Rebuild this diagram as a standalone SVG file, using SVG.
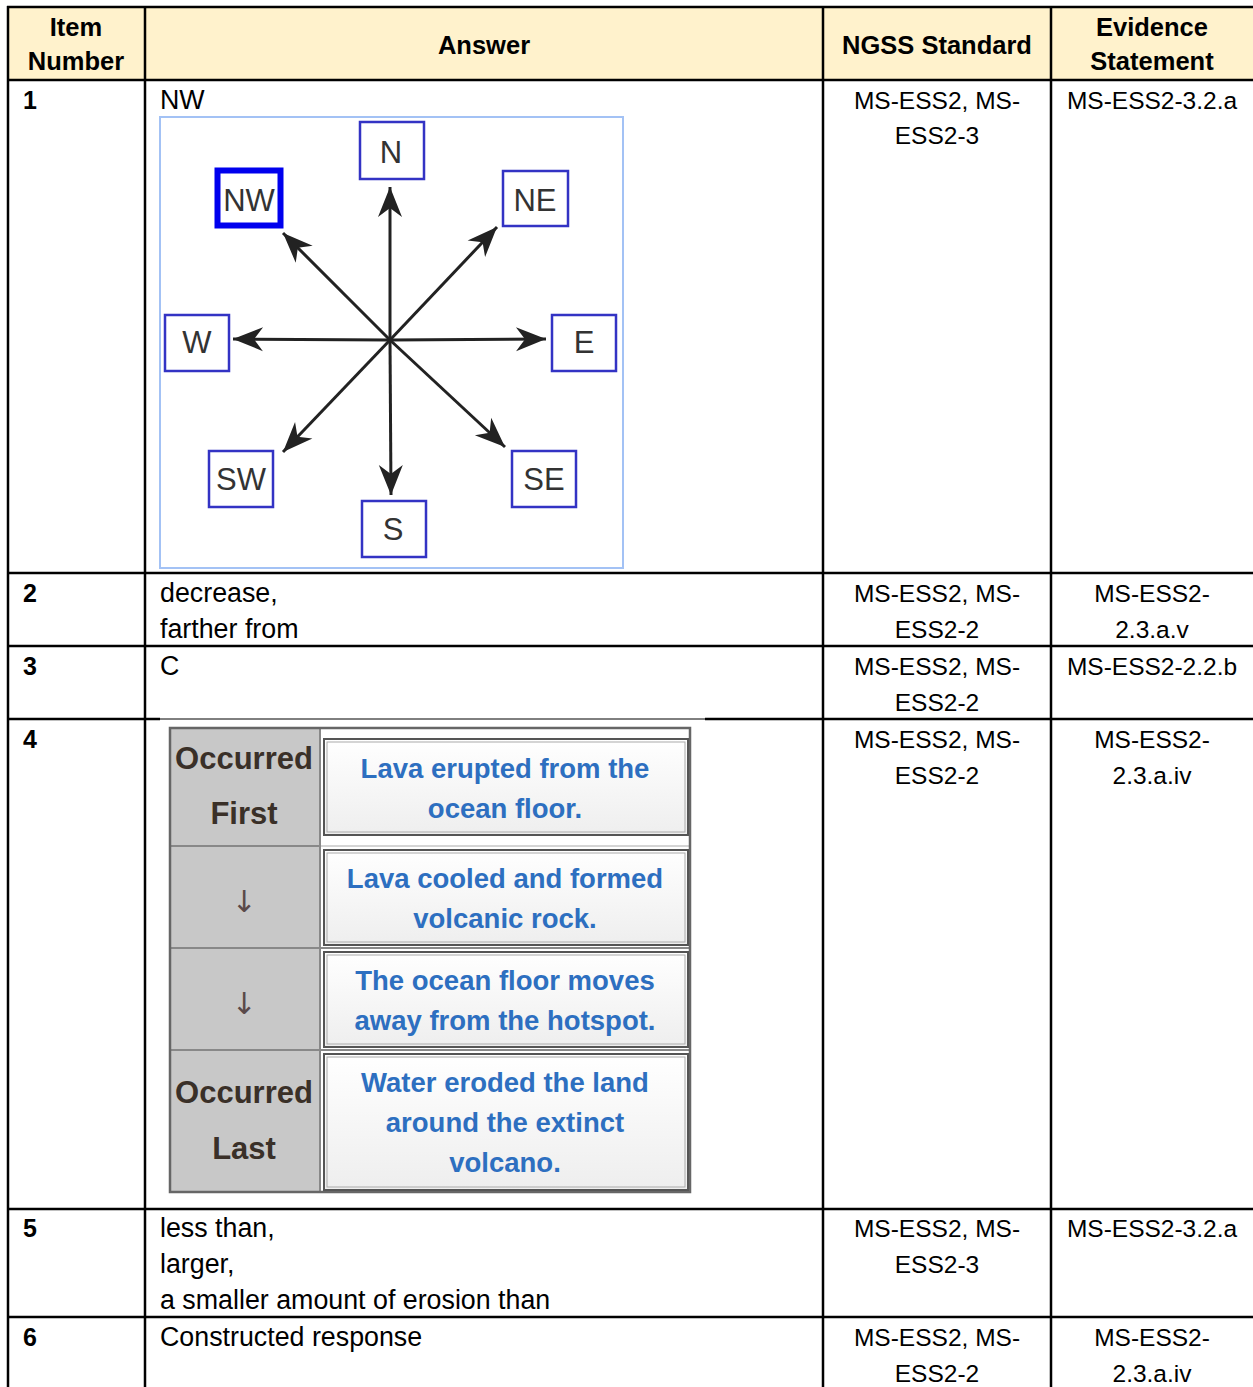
<svg xmlns="http://www.w3.org/2000/svg" width="1253" height="1387" viewBox="0 0 1253 1387">
<style>
.t{font-family:"Liberation Sans",Arial,sans-serif;font-size:26.8px;fill:#000}
.s{font-family:"Liberation Sans",Arial,sans-serif;font-size:24.5px;fill:#000;text-anchor:middle}
.h{font-family:"Liberation Sans",Arial,sans-serif;font-size:25.5px;font-weight:bold;fill:#000;text-anchor:middle}
.n{font-family:"Liberation Sans",Arial,sans-serif;font-size:25px;font-weight:bold;fill:#000}
.g{stroke:#000;stroke-width:2.5;fill:none}
.cb{fill:#fff;stroke:#3333c4;stroke-width:2.5}
.ct{font-family:"Liberation Sans",Arial,sans-serif;font-size:31px;fill:#333;text-anchor:middle}
.ar{stroke:#222;stroke-width:3;fill:none}
.lc{font-family:"Liberation Sans",Arial,sans-serif;font-size:31px;font-weight:bold;fill:#3a3028;text-anchor:middle}
.rc{font-family:"Liberation Sans",Arial,sans-serif;font-size:27.5px;font-weight:bold;fill:#2d6fc0;text-anchor:middle}
.bx{fill:url(#cg);stroke:#555;stroke-width:2}
.bi{fill:none;stroke:#aaa;stroke-width:1}
.da{font-family:"DejaVu Sans",sans-serif;font-size:30px;fill:#5a4a4a;text-anchor:middle}
</style>
<defs>
<marker id="ah" markerUnits="userSpaceOnUse" markerWidth="34" markerHeight="28" viewBox="-32 -14 34 28" refX="0" refY="0" orient="auto">
<path d="M0,0 L-30,-12 L-21,0 L-30,12 Z" fill="#222"/>
</marker>
<linearGradient id="cg" x1="0" y1="0" x2="0" y2="1">
<stop offset="0" stop-color="#ffffff"/>
<stop offset="1" stop-color="#eeeeee"/>
</linearGradient>
</defs>

<g id="table">
<rect x="8" y="7" width="1245" height="73" fill="#fff2cc"/>
<line class="g" x1="7" y1="7" x2="1253" y2="7"/>
<line class="g" x1="8" y1="6" x2="8" y2="1387"/>
<line class="g" x1="145" y1="6" x2="145" y2="1387"/>
<line class="g" x1="823" y1="6" x2="823" y2="1387"/>
<line class="g" x1="1051" y1="6" x2="1051" y2="1387"/>
<line class="g" x1="7" y1="80" x2="1253" y2="80"/>
<line class="g" x1="7" y1="573" x2="1253" y2="573"/>
<line class="g" x1="7" y1="646" x2="1253" y2="646"/>
<line class="g" x1="7" y1="719" x2="160" y2="719"/>
<line x1="160" y1="719" x2="705" y2="719" stroke="#000" stroke-width="1"/>
<line class="g" x1="705" y1="719" x2="1253" y2="719"/>
<line class="g" x1="7" y1="1209" x2="1253" y2="1209"/>
<line class="g" x1="7" y1="1317" x2="1253" y2="1317"/>
</g>

<g id="header">
<text class="h" x="76" y="36">Item</text>
<text class="h" x="76" y="70">Number</text>
<text class="h" x="484" y="54">Answer</text>
<text class="h" x="937" y="54">NGSS Standard</text>
<text class="h" x="1152" y="36">Evidence</text>
<text class="h" x="1152" y="70">Statement</text>
</g>

<g id="row1">
<text class="n" x="23" y="109">1</text>
<text class="t" x="160" y="109">NW</text>
<text class="s" x="937" y="109">MS-ESS2, MS-</text>
<text class="s" x="937" y="144">ESS2-3</text>
<text class="s" x="1152" y="109">MS-ESS2-3.2.a</text>
</g>

<g id="compass">
<rect x="160" y="117" width="463" height="451" fill="#fff" stroke="#a3c2f5" stroke-width="2"/>
<g id="arrows">
<line class="ar" x1="390" y1="340" x2="390" y2="187" marker-end="url(#ah)"/>
<line class="ar" x1="390" y1="340" x2="497" y2="227" marker-end="url(#ah)"/>
<line class="ar" x1="390" y1="340" x2="546" y2="339" marker-end="url(#ah)"/>
<line class="ar" x1="390" y1="340" x2="505" y2="447" marker-end="url(#ah)"/>
<line class="ar" x1="390" y1="340" x2="391" y2="495" marker-end="url(#ah)"/>
<line class="ar" x1="390" y1="340" x2="283" y2="452" marker-end="url(#ah)"/>
<line class="ar" x1="390" y1="340" x2="233" y2="339" marker-end="url(#ah)"/>
<line class="ar" x1="390" y1="340" x2="283" y2="233" marker-end="url(#ah)"/>
</g>
<g id="c-N"><rect class="cb" x="360" y="122" width="64" height="57"/><text class="ct" x="391" y="163">N</text></g>
<g id="c-NE"><rect class="cb" x="503" y="171" width="65" height="55"/><text class="ct" x="535" y="211">NE</text></g>
<g id="c-E"><rect class="cb" x="552" y="315" width="64" height="56"/><text class="ct" x="584" y="353">E</text></g>
<g id="c-SE"><rect class="cb" x="512" y="451" width="64" height="56"/><text class="ct" x="544" y="490">SE</text></g>
<g id="c-S"><rect class="cb" x="362" y="501" width="64" height="56"/><text class="ct" x="393" y="540">S</text></g>
<g id="c-SW"><rect class="cb" x="209" y="451" width="64" height="56"/><text class="ct" x="241" y="490">SW</text></g>
<g id="c-W"><rect class="cb" x="165" y="315" width="64" height="56"/><text class="ct" x="197" y="353">W</text></g>
<g id="c-NW"><rect x="217.5" y="170.5" width="63" height="55" fill="#fff" stroke="#0000ee" stroke-width="6"/><text class="ct" x="249" y="211">NW</text></g>
</g>

<g id="row2">
<text class="n" x="23" y="602">2</text>
<text class="t" x="160" y="602">decrease,</text>
<text class="t" x="160" y="638">farther from</text>
<text class="s" x="937" y="602">MS-ESS2, MS-</text>
<text class="s" x="937" y="638">ESS2-2</text>
<text class="s" x="1152" y="602">MS-ESS2-</text>
<text class="s" x="1152" y="638">2.3.a.v</text>
</g>

<g id="row3">
<text class="n" x="23" y="675">3</text>
<text class="t" x="160" y="675">C</text>
<text class="s" x="937" y="675">MS-ESS2, MS-</text>
<text class="s" x="937" y="711">ESS2-2</text>
<text class="s" x="1152" y="675">MS-ESS2-2.2.b</text>
</g>

<g id="row4">
<text class="n" x="23" y="748">4</text>
<text class="s" x="937" y="748">MS-ESS2, MS-</text>
<text class="s" x="937" y="784">ESS2-2</text>
<text class="s" x="1152" y="748">MS-ESS2-</text>
<text class="s" x="1152" y="784">2.3.a.iv</text>
</g>

<g id="sequence">
<rect x="170" y="728" width="520" height="464" fill="#fff"/>
<rect x="170" y="728" width="150" height="464" fill="#c8c8c8"/>
<line x1="170" y1="846" x2="320" y2="846" stroke="#888" stroke-width="2"/>
<line x1="170" y1="948" x2="690" y2="948" stroke="#888" stroke-width="2"/>
<line x1="170" y1="1050" x2="690" y2="1050" stroke="#888" stroke-width="2"/>
<line x1="320" y1="846" x2="690" y2="846" stroke="#aaa" stroke-width="1"/>
<line x1="320" y1="728" x2="320" y2="1192" stroke="#888" stroke-width="2"/>
<rect x="170" y="728" width="520" height="464" fill="none" stroke="#666" stroke-width="2.5"/>
<g id="s1"><rect class="bx" x="324" y="739" width="364" height="96"/><rect class="bi" x="327" y="742" width="358" height="90"/>
<text class="rc" x="505" y="778">Lava erupted from the</text><text class="rc" x="505" y="818">ocean floor.</text></g>
<g id="s2"><rect class="bx" x="324" y="850" width="364" height="95"/><rect class="bi" x="327" y="853" width="358" height="89"/>
<text class="rc" x="505" y="888">Lava cooled and formed</text><text class="rc" x="505" y="928">volcanic rock.</text></g>
<g id="s3"><rect class="bx" x="324" y="952" width="364" height="95"/><rect class="bi" x="327" y="955" width="358" height="89"/>
<text class="rc" x="505" y="990">The ocean floor moves</text><text class="rc" x="505" y="1030">away from the hotspot.</text></g>
<g id="s4"><rect class="bx" x="324" y="1054" width="364" height="136"/><rect class="bi" x="327" y="1057" width="358" height="130"/>
<text class="rc" x="505" y="1092">Water eroded the land</text><text class="rc" x="505" y="1132">around the extinct</text><text class="rc" x="505" y="1172">volcano.</text></g>
<text class="lc" x="244" y="769">Occurred</text>
<text class="lc" x="244" y="824">First</text>
<text class="da" x="244" y="912">↓</text>
<text class="da" x="244" y="1014">↓</text>
<text class="lc" x="244" y="1103">Occurred</text>
<text class="lc" x="244" y="1159">Last</text>
</g>

<g id="row5">
<text class="n" x="23" y="1237">5</text>
<text class="t" x="160" y="1237">less than,</text>
<text class="t" x="160" y="1273">larger,</text>
<text class="t" x="160" y="1309">a smaller amount of erosion than</text>
<text class="s" x="937" y="1237">MS-ESS2, MS-</text>
<text class="s" x="937" y="1273">ESS2-3</text>
<text class="s" x="1152" y="1237">MS-ESS2-3.2.a</text>
</g>

<g id="row6">
<text class="n" x="23" y="1346">6</text>
<text class="t" x="160" y="1346">Constructed response</text>
<text class="s" x="937" y="1346">MS-ESS2, MS-</text>
<text class="s" x="937" y="1382">ESS2-2</text>
<text class="s" x="1152" y="1346">MS-ESS2-</text>
<text class="s" x="1152" y="1382">2.3.a.iv</text>
</g>
</svg>
